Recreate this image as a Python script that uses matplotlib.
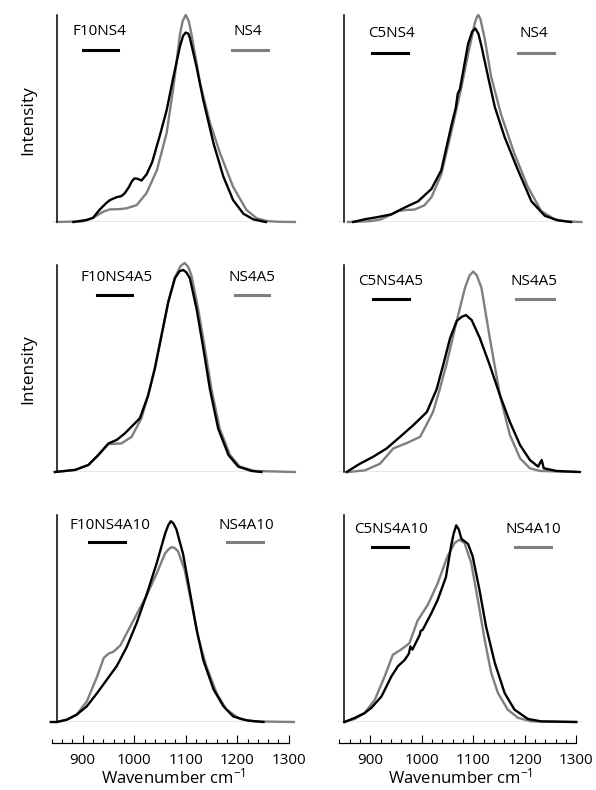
import matplotlib
matplotlib.use("Agg")
import matplotlib.pyplot as plt
from matplotlib.ticker import MultipleLocator

plt.rcParams['font.family'] = ['Open Sans', 'DejaVu Sans']
plt.rcParams['mathtext.fontset'] = 'custom'
plt.rcParams['mathtext.rm'] = 'Open Sans'
plt.rcParams['mathtext.default'] = 'regular'

# ---- data (normalised intensity) ----
# panel 1: F10NS4 vs NS4
p1_ref_x = [850, 900, 920, 940, 953, 970, 985, 1005, 1024, 1044, 1063, 1076, 1089, 1094, 1100,
            1106, 1111, 1128, 1147, 1167, 1192, 1218, 1238, 1257, 1280, 1312]
p1_ref_y = [0, 0.003, 0.02, 0.05, 0.061, 0.062, 0.066, 0.082, 0.14, 0.25, 0.43, 0.65, 0.91, 0.97, 1.0,
            0.97, 0.91, 0.67, 0.48, 0.33, 0.17, 0.058, 0.018, 0.005, 0.001, 0]
p1_smp_x = [882, 908, 920, 933, 945, 953, 966, 975, 982, 990, 995, 1000, 1005, 1010, 1014, 1024, 1035,
            1050, 1063, 1076, 1089, 1095, 1100, 1105, 1108, 1121, 1134, 1154, 1173, 1192, 1212, 1231,
            1251, 1256]
p1_smp_y = [0, 0.01, 0.02, 0.06, 0.09, 0.106, 0.12, 0.125, 0.14, 0.17, 0.195, 0.21, 0.21, 0.205, 0.20,
            0.23, 0.29, 0.42, 0.54, 0.70, 0.85, 0.90, 0.915, 0.91, 0.89, 0.75, 0.59, 0.38, 0.22, 0.106,
            0.04, 0.013, 0.002, 0]

# panel 2: C5NS4 vs NS4
p2_ref_x = [857, 900, 921, 940, 954, 970, 986, 1005, 1019, 1038, 1057, 1077, 1090, 1103, 1107, 1110,
            1114, 1122, 1135, 1154, 1180, 1206, 1232, 1258, 1280, 1310]
p2_ref_y = [0, 0.004, 0.013, 0.035, 0.053, 0.058, 0.06, 0.08, 0.12, 0.23, 0.43, 0.65, 0.81, 0.96, 0.99, 1.0,
            0.98, 0.89, 0.70, 0.52, 0.33, 0.17, 0.053, 0.013, 0.003, 0]
p2_smp_x = [867, 889, 915, 941, 967, 993, 1019, 1038, 1057, 1066, 1070, 1074, 1077, 1090, 1098, 1104,
            1110, 1116, 1129, 1142, 1161, 1187, 1213, 1239, 1264, 1290]
p2_smp_y = [0, 0.013, 0.024, 0.037, 0.07, 0.10, 0.16, 0.25, 0.46, 0.55, 0.62, 0.64, 0.68, 0.86, 0.92, 0.935,
            0.91, 0.85, 0.70, 0.555, 0.41, 0.25, 0.10, 0.03, 0.008, 0]

# panel 3: F10NS4A5 vs NS4A5
p3_ref_x = [846, 885, 911, 930, 950, 975, 995, 1014, 1027, 1040, 1053, 1066, 1079, 1090, 1098, 1105,
            1111, 1124, 1137, 1150, 1166, 1186, 1205, 1234, 1312]
p3_ref_y = [0, 0.01, 0.034, 0.08, 0.135, 0.138, 0.17, 0.26, 0.37, 0.50, 0.66, 0.82, 0.94, 0.995, 1.01,
            0.99, 0.95, 0.79, 0.60, 0.40, 0.21, 0.082, 0.026, 0.005, 0]
p3_smp_x = [846, 885, 911, 930, 950, 966, 982, 998, 1011, 1027, 1040, 1053, 1066, 1079, 1088, 1095,
            1101, 1108, 1121, 1134, 1147, 1163, 1183, 1202, 1228, 1247]
p3_smp_y = [0, 0.01, 0.034, 0.082, 0.138, 0.155, 0.187, 0.227, 0.26, 0.37, 0.50, 0.66, 0.82, 0.936,
            0.97, 0.976, 0.965, 0.936, 0.79, 0.60, 0.40, 0.21, 0.082, 0.026, 0.005, 0]

# panel 4: C5NS4A5 vs NS4A5
p4_ref_x = [857, 890, 919, 945, 971, 997, 1022, 1035, 1048, 1068, 1084, 1093, 1100, 1107, 1116, 1132,
            1152, 1171, 1191, 1210, 1230, 1300]
p4_ref_y = [0, 0.008, 0.04, 0.114, 0.14, 0.17, 0.29, 0.40, 0.52, 0.73, 0.89, 0.95, 0.968, 0.95, 0.89,
            0.65, 0.37, 0.18, 0.066, 0.018, 0.005, 0]
p4_smp_x = [854, 880, 906, 932, 958, 984, 1010, 1029, 1042, 1055, 1068, 1078, 1086, 1097, 1113, 1132,
            1152, 1171, 1191, 1210, 1226, 1233, 1237, 1262, 1307]
p4_smp_y = [0, 0.04, 0.074, 0.114, 0.17, 0.227, 0.29, 0.40, 0.52, 0.646, 0.73, 0.75, 0.758, 0.734, 0.646,
            0.517, 0.37, 0.243, 0.13, 0.058, 0.026, 0.058, 0.018, 0.005, 0]

# panel 5: F10NS4A10 vs NS4A10
p5_ref_x = [850, 869, 888, 908, 928, 941, 950, 960, 973, 992, 1011, 1024, 1044, 1060, 1067, 1073, 1079,
            1085, 1098, 1111, 1124, 1140, 1160, 1179, 1205, 1231, 1310]
p5_ref_y = [0, 0.011, 0.035, 0.10, 0.22, 0.31, 0.33, 0.34, 0.37, 0.46, 0.55, 0.61, 0.72, 0.815, 0.835, 0.845,
            0.84, 0.825, 0.735, 0.575, 0.41, 0.27, 0.14, 0.06, 0.015, 0.003, 0]
p5_smp_x = [838, 850, 869, 888, 908, 928, 947, 966, 985, 1005, 1024, 1044, 1060, 1066, 1071, 1076, 1082,
            1095, 1108, 1121, 1134, 1154, 1173, 1192, 1218, 1251]
p5_smp_y = [0, 0, 0.011, 0.035, 0.076, 0.14, 0.205, 0.27, 0.36, 0.48, 0.615, 0.77, 0.91, 0.95, 0.97, 0.96,
            0.93, 0.81, 0.63, 0.45, 0.30, 0.158, 0.077, 0.027, 0.008, 0]

# panel 6: C5NS4A10 vs NS4A10
p6_ref_x = [850, 870, 889, 909, 928, 944, 960, 976, 992, 1012, 1031, 1050, 1064, 1073, 1083, 1096,
            1109, 1122, 1135, 1148, 1167, 1187, 1213, 1300]
p6_ref_y = [0, 0.015, 0.043, 0.108, 0.22, 0.325, 0.35, 0.38, 0.49, 0.567, 0.67, 0.80, 0.865, 0.88, 0.865,
            0.77, 0.59, 0.40, 0.237, 0.14, 0.06, 0.02, 0.003, 0]
p6_smp_x = [850, 870, 889, 902, 922, 941, 954, 967, 975, 978, 982, 992, 996, 998, 1002, 1019, 1031, 1047,
            1057, 1062, 1067, 1072, 1077, 1090, 1099, 1112, 1125, 1142, 1161, 1180, 1206, 1232, 1300]
p6_smp_y = [0, 0.02, 0.043, 0.068, 0.124, 0.22, 0.27, 0.30, 0.33, 0.365, 0.35, 0.40, 0.42, 0.44, 0.446,
            0.527, 0.59, 0.70, 0.85, 0.91, 0.95, 0.93, 0.885, 0.86, 0.80, 0.64, 0.46, 0.285, 0.14, 0.06,
            0.015, 0.003, 0]

sample_names = ['F10NS4', 'C5NS4', 'F10NS4A5', 'C5NS4A5', 'F10NS4A10', 'C5NS4A10']
ref_names = ['NS4', 'NS4', 'NS4A5', 'NS4A5', 'NS4A10', 'NS4A10']

ref_x = [p1_ref_x, p2_ref_x, p3_ref_x, p4_ref_x, p5_ref_x, p6_ref_x]
ref_y = [p1_ref_y, p2_ref_y, p3_ref_y, p4_ref_y, p5_ref_y, p6_ref_y]
smp_x = [p1_smp_x, p2_smp_x, p3_smp_x, p4_smp_x, p5_smp_x, p6_smp_x]
smp_y = [p1_smp_y, p2_smp_y, p3_smp_y, p4_smp_y, p5_smp_y, p6_smp_y]

GREY = '#7f7f7f'
W, H = 596, 790

fig = plt.figure(figsize=(W / 100, H / 100), dpi=100)

col_left = [50.8, 338.3]
row_bottom = [222, 472, 722]
ax_w = 244.6
ax_h = 207

# legend label / line placement (x in data, y in axes fraction)
leg_black = [(933, 900, 968, 0.92, 0.83), (942, 903, 973, 0.91, 0.816),
             (965, 928, 995, 0.94, 0.855), (940, 905, 975, 0.92, 0.836),
             (953, 913, 982, 0.95, 0.87), (940, 903, 973, 0.93, 0.845)]
leg_grey = [(1221, 1190, 1260), (1218, 1187, 1257), (1229, 1196, 1262),
            (1218, 1184, 1256), (1217, 1180, 1250), (1216, 1181, 1251)]

for i in range(6):
    r, c = divmod(i, 2)
    ax = fig.add_axes([col_left[c] / W, (H - row_bottom[r]) / H, ax_w / W, ax_h / H])
    ax.set_xlim(838, 1313)
    ax.set_ylim(0, 1)
    ax.patch.set_alpha(0)

    ax.axhline(0, color='#8c8c8c', lw=1.0, zorder=1)
    ax.plot(ref_x[i], ref_y[i], color=GREY, lw=1.7, clip_on=False, zorder=2)
    ax.plot(smp_x[i], smp_y[i], color='black', lw=1.7, clip_on=False, zorder=3)

    for s in ['top', 'right']:
        ax.spines[s].set_visible(False)
    ax.spines['left'].set_position(('data', 850))
    ax.spines['left'].set_linewidth(1.1)
    ax.set_yticks([])

    if r < 2:
        ax.spines['bottom'].set_visible(False)
        ax.set_xticks([])
    else:
        ax.spines['bottom'].set_position(('outward', 15))
        ax.spines['bottom'].set_bounds(840, 1300)
        ax.spines['bottom'].set_linewidth(0.9)
        ax.xaxis.set_major_locator(MultipleLocator(100))
        ax.xaxis.set_minor_locator(MultipleLocator(20))
        ax.set_xticks([900, 1000, 1100, 1200, 1300])
        ax.tick_params(axis='x', which='major', direction='in', length=6, width=0.8, labelsize=11, pad=7)
        ax.tick_params(axis='x', which='minor', direction='in', length=3, width=0.8)
        ax.set_xlabel(r'Wavenumber cm$^{-1}$', fontsize=12, labelpad=0)

    tx, lx0, lx1, ty, ly = leg_black[i]
    gx, gx0, gx1 = leg_grey[i]
    trans = ax.get_xaxis_transform()
    ax.text(tx, ty, sample_names[i], transform=trans, ha='center', va='center', fontsize=11)
    ax.plot([lx0, lx1], [ly, ly], transform=trans, color='black', lw=2.2, clip_on=False)
    ax.text(gx, ty, ref_names[i], transform=trans, ha='center', va='center', fontsize=11)
    ax.plot([gx0, gx1], [ly, ly], transform=trans, color=GREY, lw=2.2, clip_on=False)

fig.text(28 / W, (H - 120) / H, 'Intensity', rotation=90, ha='center', va='center', fontsize=12.5)
fig.text(28 / W, (H - 369) / H, 'Intensity', rotation=90, ha='center', va='center', fontsize=12.5)

fig.savefig('out.png', dpi=100)
